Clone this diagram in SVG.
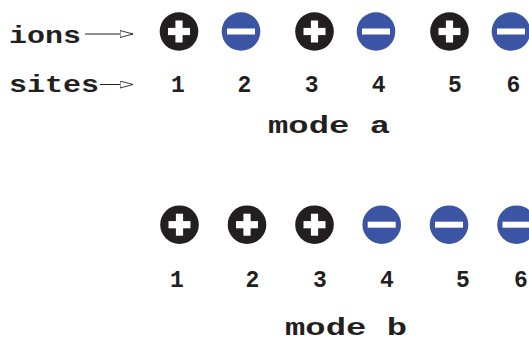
<svg xmlns="http://www.w3.org/2000/svg" xmlns:xlink="http://www.w3.org/1999/xlink" width="529" height="339" viewBox="0 0 529 339">
  <style>
    .lbl { font-family: "Liberation Mono", "DejaVu Sans Mono", monospace; font-weight: bold; font-size: 24px; fill: #231f20; }
    .num { font-family: "Liberation Mono", "DejaVu Sans Mono", monospace; font-weight: bold; font-size: 23px; fill: #231f20; text-anchor: middle; }
    .conn { stroke: #231f20; stroke-width: 1; fill: none; }
  </style>
  <defs>
    <marker id="openHead" markerUnits="userSpaceOnUse" markerWidth="15" markerHeight="9" refX="13.5" refY="4" orient="auto">
      <path d="M0.5,0.5 L13.5,4 L0.5,7.5 Z" fill="#fff" stroke="#231f20" stroke-width="0.9"/>
    </marker>
    <!-- positive ion: dark disc with white cross -->
    <g id="plusIon">
      <circle r="19.3" fill="#231f20"/>
      <rect x="-11" y="-3.6" width="22" height="7.2" fill="#fff"/>
      <rect x="-3.6" y="-11" width="7.2" height="22" fill="#fff"/>
    </g>
    <!-- negative ion: blue disc with white bar -->
    <g id="minusIon">
      <circle r="19.3" fill="#3b55a4"/>
      <rect x="-14" y="-3" width="28" height="6" fill="#fff"/>
    </g>
  </defs>

  <rect width="529" height="339" fill="#fff"/>

  <!-- row captions -->
  <g id="caption-ions"><text class="lbl" x="9" y="42.5" textLength="72" lengthAdjust="spacingAndGlyphs">ions</text></g>
  <g id="caption-sites"><text class="lbl" x="9" y="92" textLength="90" lengthAdjust="spacingAndGlyphs">sites</text></g>

  <g id="connectors">
    <line class="conn" x1="85" y1="34" x2="133" y2="34" marker-end="url(#openHead)"/>
    <line class="conn" x1="100" y1="84.5" x2="133" y2="84.5" marker-end="url(#openHead)"/>
  </g>

  <!-- mode a: alternating ions -->
  <g id="a-ion1"><use xlink:href="#plusIon" x="179" y="31.5"/></g>
  <g id="a-ion2"><use xlink:href="#minusIon" x="241" y="31.5"/></g>
  <g id="a-ion3"><use xlink:href="#plusIon" x="314.5" y="31.5"/></g>
  <g id="a-ion4"><use xlink:href="#minusIon" x="376" y="31.5"/></g>
  <g id="a-ion5"><use xlink:href="#plusIon" x="449.5" y="31.5"/></g>
  <g id="a-ion6"><use xlink:href="#minusIon" x="511" y="31.5"/></g>

  <g id="a-sites">
    <text class="num" x="178" y="92">1</text>
    <text class="num" x="244.5" y="92">2</text>
    <text class="num" x="311.7" y="92">3</text>
    <text class="num" x="378.7" y="92">4</text>
    <text class="num" x="455" y="92">5</text>
    <text class="num" x="513.3" y="92">6</text>
  </g>
  <g id="title-a"><text class="lbl" x="268" y="133" textLength="122" lengthAdjust="spacingAndGlyphs">mode a</text></g>

  <!-- mode b: grouped ions -->
  <g id="b-ion1"><use xlink:href="#plusIon" x="179.5" y="224.7"/></g>
  <g id="b-ion2"><use xlink:href="#plusIon" x="247" y="224.7"/></g>
  <g id="b-ion3"><use xlink:href="#plusIon" x="314.5" y="224.7"/></g>
  <g id="b-ion4"><use xlink:href="#minusIon" x="381.7" y="224.7"/></g>
  <g id="b-ion5"><use xlink:href="#minusIon" x="449" y="224.7"/></g>
  <g id="b-ion6"><use xlink:href="#minusIon" x="516.5" y="224.7"/></g>

  <g id="b-sites">
    <text class="num" x="177" y="287">1</text>
    <text class="num" x="252.3" y="287">2</text>
    <text class="num" x="320" y="287">3</text>
    <text class="num" x="387" y="287">4</text>
    <text class="num" x="463" y="287">5</text>
    <text class="num" x="521" y="287">6</text>
  </g>
  <g id="title-b"><text class="lbl" x="285" y="335" textLength="122" lengthAdjust="spacingAndGlyphs">mode b</text></g>
</svg>
